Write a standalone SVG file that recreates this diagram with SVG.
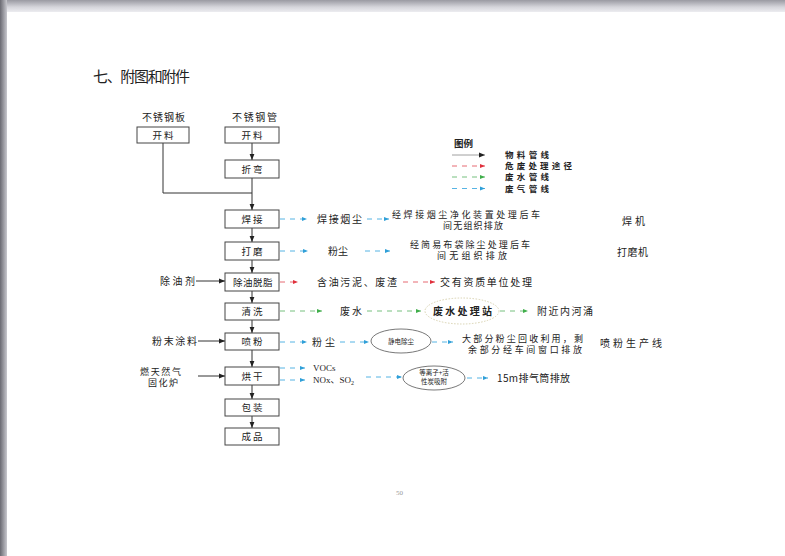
<svg xmlns="http://www.w3.org/2000/svg" width="785" height="556" viewBox="0 0 785 556">
<defs>
<linearGradient id="topband" x1="0" y1="0" x2="0" y2="1">
<stop offset="0" stop-color="#9a9aa2"/><stop offset="0.6" stop-color="#d6d6dc"/><stop offset="1" stop-color="#ececf0"/>
</linearGradient>
<linearGradient id="leftband" x1="0" y1="0" x2="1" y2="0">
<stop offset="0" stop-color="#6a6a72"/><stop offset="1" stop-color="#c8c8ce"/>
</linearGradient>
<marker id="ak" viewBox="0 0 10 10" refX="10" refY="5" markerWidth="6" markerHeight="6" markerUnits="userSpaceOnUse" orient="auto"><path d="M0,1 L10,5 L0,9 Z" fill="#222"/></marker>
<marker id="ab" viewBox="0 0 10 10" refX="10" refY="5" markerWidth="6" markerHeight="5" markerUnits="userSpaceOnUse" orient="auto"><path d="M0,1 L10,5 L0,9 Z" fill="#2f9fd8"/></marker>
<marker id="ar" viewBox="0 0 10 10" refX="10" refY="5" markerWidth="6" markerHeight="5" markerUnits="userSpaceOnUse" orient="auto"><path d="M0,1 L10,5 L0,9 Z" fill="#e0303c"/></marker>
<marker id="ag" viewBox="0 0 10 10" refX="10" refY="5" markerWidth="6" markerHeight="5" markerUnits="userSpaceOnUse" orient="auto"><path d="M0,1 L10,5 L0,9 Z" fill="#3fae4a"/></marker>
</defs>
<style>
text{font-family:"Noto Sans CJK SC","Noto Sans",sans-serif;fill:#222;font-size:10px}
.two{font-size:9px}
.lg{font-size:8.5px;font-weight:bold}
.n{font-size:9.5px;letter-spacing:2px;text-anchor:middle}
.box{fill:#fff;stroke:#444;stroke-width:1}
.ell{fill:#fff;stroke:#555;stroke-width:0.8}
.eld{fill:#fff;stroke:#d8d2b0;stroke-width:1;stroke-dasharray:1.5 1.5}
.mat{fill:none;stroke:#333;stroke-width:1}
.b{fill:none;stroke:#57b4e4;stroke-width:1;stroke-dasharray:5 5}
.r{fill:none;stroke:#e66a72;stroke-width:1;stroke-dasharray:5 5}
.g{fill:none;stroke:#77c07e;stroke-width:1;stroke-dasharray:5 5}
.sm{font-size:6.5px;text-anchor:middle}
</style>
<rect width="785" height="556" fill="#fff"/>
<rect x="0" y="0" width="785" height="12" fill="url(#topband)"/>
<rect x="0" y="0" width="7" height="556" fill="url(#leftband)"/>

<text x="93" y="82" style="font-size:15px" textLength="97" lengthAdjust="spacing">七、附图和附件</text>

<g id="connectors">
<path class="mat" d="M252,143 V160" marker-end="url(#ak)"/>
<path class="mat" d="M163,143 V193 H252"/>
<path class="mat" d="M252,178 V210" marker-end="url(#ak)"/>
<path class="mat" d="M252,228 V242" marker-end="url(#ak)"/>
<path class="mat" d="M252,260 V273" marker-end="url(#ak)"/>
<path class="mat" d="M252,291 V303" marker-end="url(#ak)"/>
<path class="mat" d="M252,320 V333" marker-end="url(#ak)"/>
<path class="mat" d="M252,350 V367" marker-end="url(#ak)"/>
<path class="mat" d="M252,385 V399" marker-end="url(#ak)"/>
<path class="mat" d="M252,416 V428" marker-end="url(#ak)"/>
<path class="mat" d="M196,281 H225" marker-end="url(#ak)"/>
<path class="mat" d="M198,341 H225" marker-end="url(#ak)"/>
<path class="mat" d="M198,376 H225" marker-end="url(#ak)"/>

<path class="b" d="M280,219 H307" marker-end="url(#ab)"/>
<path class="b" d="M367,219 H389" marker-end="url(#ab)"/>
<path class="b" d="M280,251 H308" marker-end="url(#ab)"/>
<path class="b" d="M365,251 H390" marker-end="url(#ab)"/>
<path class="r" d="M280,282 H298" marker-end="url(#ar)"/>
<path class="r" d="M403,282 H435" marker-end="url(#ar)"/>
<path class="g" d="M280,311 H322" marker-end="url(#ag)"/>
<path class="g" d="M367,311 H421" marker-end="url(#ag)"/>
<path class="g" d="M500,311 H528" marker-end="url(#ag)"/>
<path class="b" d="M280,342 H307" marker-end="url(#ab)"/>
<path class="b" d="M340,342 H369" marker-end="url(#ab)"/>
<path class="b" d="M432,342 H453" marker-end="url(#ab)"/>
<path class="b" d="M280,368 H305" marker-end="url(#ab)"/>
<path class="b" d="M280,380 H305" marker-end="url(#ab)"/>
<path class="b" d="M366,377 H402" marker-end="url(#ab)"/>
<path class="b" d="M467,378 H488" marker-end="url(#ab)"/>

<path class="mat" style="stroke:#888;stroke-width:0.8" d="M452,155 H485" marker-end="url(#ak)"/>
<path class="r" d="M452,166 H485" marker-end="url(#ar)"/>
<path class="g" d="M452,177 H485" marker-end="url(#ag)"/>
<path class="b" d="M452,188.5 H485" marker-end="url(#ab)"/>
</g>

<g id="legend">
<text x="454" y="147" style="font-weight:bold;font-size:9.5px">图例</text>
<text class="lg" x="505" y="158" textLength="44" lengthAdjust="spacing">物料管线</text>
<text class="lg" x="505" y="169" textLength="67" lengthAdjust="spacing">危废处理途径</text>
<text class="lg" x="505" y="180" textLength="44" lengthAdjust="spacing">废水管线</text>
<text class="lg" x="505" y="191.5" textLength="44" lengthAdjust="spacing">废气管线</text>
</g>

<g id="src-plate"><text x="142" y="121" textLength="43" lengthAdjust="spacing">不锈钢板</text></g>
<g id="src-pipe"><text x="232" y="121" textLength="45" lengthAdjust="spacing">不锈钢管</text></g>

<g id="n-cut1"><rect class="box" x="137" y="127" width="52" height="16"/><text class="n" x="164" y="138.5">开料</text></g>
<g id="n-cut2"><rect class="box" x="225" y="127" width="54" height="16"/><text class="n" x="253" y="138.5">开料</text></g>
<g id="n-bend"><rect class="box" x="225" y="160" width="54" height="18"/><text class="n" x="253" y="172.5">折弯</text></g>
<g id="n-weld"><rect class="box" x="225" y="210" width="54" height="18"/><text class="n" x="253" y="222.5">焊接</text></g>
<g id="n-grind"><rect class="box" x="225" y="242" width="54" height="18"/><text class="n" x="253" y="254.5">打磨</text></g>
<g id="n-degrease"><rect class="box" x="225" y="273" width="54" height="18"/><text class="n" x="253" y="285.5" style="letter-spacing:0.5px">除油脱脂</text></g>
<g id="n-wash"><rect class="box" x="225" y="303" width="54" height="17"/><text class="n" x="253" y="315">清洗</text></g>
<g id="n-spray"><rect class="box" x="225" y="333" width="54" height="17"/><text class="n" x="253" y="345">喷粉</text></g>
<g id="n-dry"><rect class="box" x="225" y="367" width="54" height="18"/><text class="n" x="253" y="379.5">烘干</text></g>
<g id="n-pack"><rect class="box" x="225" y="399" width="54" height="17"/><text class="n" x="253" y="411">包装</text></g>
<g id="n-product"><rect class="box" x="225" y="428" width="54" height="17"/><text class="n" x="253" y="440">成品</text></g>

<g id="in-degreaser"><text x="160" y="284.5" textLength="35" lengthAdjust="spacing">除油剂</text></g>
<g id="in-powder"><text x="152" y="344.5" textLength="45" lengthAdjust="spacing">粉末涂料</text></g>
<g id="in-furnace"><text class="two" x="140" y="374.5" textLength="41" lengthAdjust="spacing">燃天然气</text><text class="two" x="148" y="386" textLength="30" lengthAdjust="spacing">固化炉</text></g>

<g id="o-weldfume"><text x="317" y="222.5" textLength="45" lengthAdjust="spacing">焊接烟尘</text></g>
<g id="o-weldtreat"><text class="two" x="392" y="217.5" textLength="148" lengthAdjust="spacing">经焊接烟尘净化装置处理后车</text><text class="two" x="443" y="229" textLength="60" lengthAdjust="spacing">间无组织排放</text></g>
<g id="o-welder"><text x="622" y="224.5" textLength="23" lengthAdjust="spacing">焊机</text></g>
<g id="o-dust1"><text x="328" y="254.5" textLength="20" lengthAdjust="spacing">粉尘</text></g>
<g id="o-bagfilter"><text class="two" x="410" y="247.5" textLength="120" lengthAdjust="spacing">经简易布袋除尘处理后车</text><text class="two" x="437" y="259" textLength="70" lengthAdjust="spacing">间无组织排放</text></g>
<g id="o-grinder"><text x="617" y="255.5" textLength="31" lengthAdjust="spacing">打磨机</text></g>
<g id="o-sludge"><text x="317" y="285.5" textLength="80" lengthAdjust="spacing">含油污泥、废渣</text></g>
<g id="o-hazard"><text x="440" y="285.5" textLength="92" lengthAdjust="spacing">交有资质单位处理</text></g>
<g id="o-wastewater"><text x="340" y="314.5" textLength="22" lengthAdjust="spacing">废水</text></g>
<g id="o-wwtp"><ellipse class="eld" cx="462" cy="311" rx="37" ry="13"/><text x="433" y="314.5" style="font-weight:bold" textLength="59" lengthAdjust="spacing">废水处理站</text></g>
<g id="o-river"><text x="537" y="314.5" textLength="56" lengthAdjust="spacing">附近内河涌</text></g>
<g id="o-dust2"><text x="312" y="345.5" textLength="23" lengthAdjust="spacing">粉尘</text></g>
<g id="o-esp"><ellipse class="ell" cx="401" cy="341" rx="30" ry="12"/><text class="sm" x="401" y="343.5">静电除尘</text></g>
<g id="o-recycle"><text class="two" x="462" y="341.5" textLength="121" lengthAdjust="spacing">大部分粉尘回收利用，剩</text><text class="two" x="468" y="353" textLength="114" lengthAdjust="spacing">余部分经车间窗口排放</text></g>
<g id="o-sprayline"><text x="600" y="346.5" textLength="62" lengthAdjust="spacing">喷粉生产线</text></g>
<g id="o-gases"><text x="313" y="371" style="font-family:'Liberation Serif',serif;font-size:9px">VOCs</text><text x="313" y="383" style="font-family:'Liberation Serif','Noto Sans CJK SC',serif;font-size:9px">NOx、SO<tspan style="font-size:6px" dy="2">2</tspan></text></g>
<g id="o-plasma"><ellipse class="ell" cx="434" cy="378" rx="31" ry="12"/><text class="sm" x="434" y="375">等离子+活</text><text class="sm" x="434" y="384">性炭吸附</text></g>
<g id="o-stack"><text x="497" y="381.5" textLength="73" lengthAdjust="spacing">15m排气筒排放</text></g>

<text x="396" y="495" style="font-size:7px;fill:#999;font-family:'Liberation Serif',serif">50</text>
</svg>
